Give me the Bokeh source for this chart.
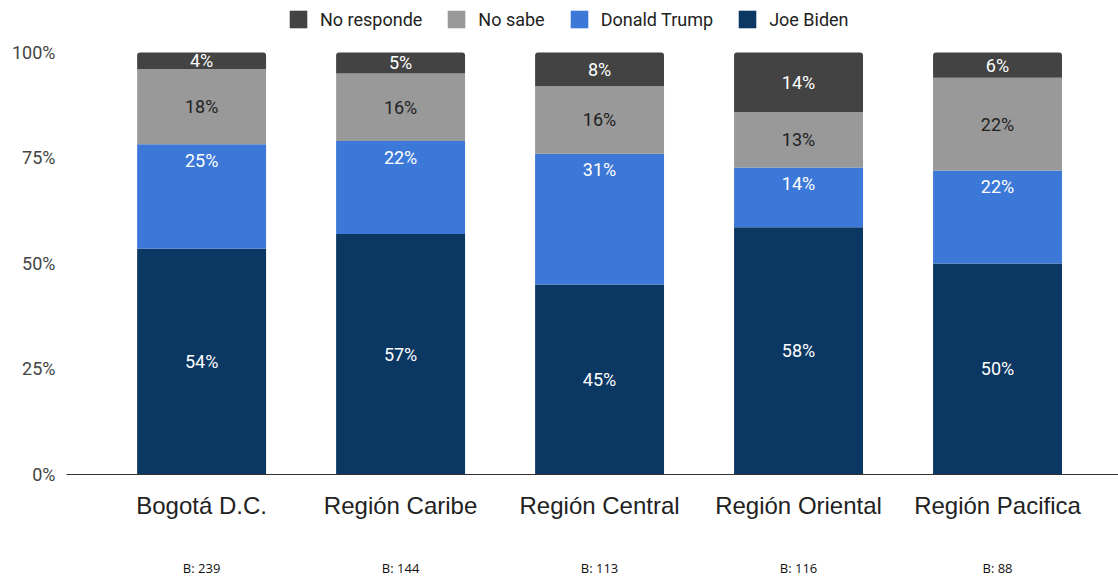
import numpy as np
from bokeh.plotting import figure
from bokeh.models import (Range1d, FixedTicker, LinearAxis, Legend, LegendItem,
                          ColumnDataSource)
from bokeh.core.properties import value
from bokeh.embed import file_html
from bokeh.resources import INLINE

regions = ["Bogotá D.C.", "Región Caribe", "Región Central", "Región Oriental", "Región Pacifica"]
bases = ["B: 239", "B: 144", "B: 113", "B: 116", "B: 88"]
series = ["Joe Biden", "Donald Trump", "No sabe", "No responde"]
biden = [54, 57, 45, 58, 50]
trump = [25, 22, 31, 14, 22]
no_sabe = [18, 16, 16, 13, 22]
no_responde = [4, 5, 8, 14, 6]
y_ticks = [0, 25, 50, 75, 100]
colors = ["#0b3763", "#3c78d8", "#999999", "#434343"]
label_colors = ["#ffffff", "#ffffff", "#222222", "#ffffff"]

raw = np.array([biden, trump, no_sabe, no_responde], dtype=float)
norm = raw / raw.sum(axis=0) * 100.0
tops = np.cumsum(norm, axis=0)
bottoms = tops - norm
xs = list(range(len(regions)))

W, H = 1118, 579
p = figure(width=W, height=H, output_backend="svg", toolbar_location=None,
           x_range=Range1d(-0.679, 4.608), y_range=Range1d(0, 112.29),
           min_border_left=66, min_border_right=0, min_border_top=0,
           min_border_bottom=104, x_axis_location=None)
p.outline_line_color = None
p.xgrid.visible = False
p.ygrid.visible = False
p.background_fill_color = "white"
p.border_fill_color = "white"

renderers = []
for i, name in enumerate(series):
    src = ColumnDataSource(dict(x=xs, top=tops[i], bottom=bottoms[i]))
    kw = {}
    if i == len(series) - 1:
        kw["border_radius"] = (3, 3, 0, 0)
    r = p.vbar(x="x", width=0.648, top="top", bottom="bottom", source=src,
               fill_color=colors[i], line_color=None, **kw)
    renderers.append(r)

for i, name in enumerate(series):
    labels = [f"{int(v)}%" for v in raw[i]]
    if name == "Donald Trump":
        ys = tops[i]
        yoff = 16
    else:
        ys = (tops[i] + bottoms[i]) / 2
        yoff = 0
    src = ColumnDataSource(dict(x=xs, y=ys, t=labels))
    p.text(x="x", y="y", text="t", source=src, text_align="center",
           text_baseline="middle", y_offset=yoff,
           text_font=value("Roboto"), text_font_size="18px",
           text_color=label_colors[i])

p.yaxis.ticker = FixedTicker(ticks=y_ticks)
p.yaxis.major_label_overrides = {t: f"{t}%" for t in y_ticks}
p.yaxis.axis_line_color = None
p.yaxis.major_tick_line_color = None
p.yaxis.minor_tick_line_color = None
p.yaxis.major_tick_out = 0
p.yaxis.major_tick_in = 0
p.yaxis.major_label_standoff = 11
p.yaxis.major_label_text_font = "Roboto"
p.yaxis.major_label_text_font_size = "18px"
p.yaxis.major_label_text_color = "#444444"

xa = LinearAxis(ticker=FixedTicker(ticks=xs),
                major_label_overrides={i: r for i, r in enumerate(regions)})
xa.axis_line_color = "#333333"
xa.axis_line_width = 1
xa.major_tick_line_color = None
xa.minor_tick_line_color = None
xa.major_tick_out = 0
xa.major_tick_in = 0
xa.major_label_standoff = 17
xa.major_label_text_font = "Liberation Sans"
xa.major_label_text_font_size = "24px"
xa.major_label_text_color = "#222222"
p.add_layout(xa, "below")

xb = LinearAxis(ticker=FixedTicker(ticks=xs),
                major_label_overrides={i: b for i, b in enumerate(bases)})
xb.axis_line_color = None
xb.major_tick_line_color = None
xb.minor_tick_line_color = None
xb.major_tick_out = 0
xb.major_tick_in = 0
xb.major_label_standoff = 37
xb.major_label_text_font = "Open Sans"
xb.major_label_text_font_size = "13px"
xb.major_label_text_color = "#111111"
p.add_layout(xb, "below")

order = [3, 2, 1, 0]
legend = Legend(items=[LegendItem(label=series[i], renderers=[renderers[i]]) for i in order],
                orientation="horizontal", location=(221, 444),
                glyph_width=22, glyph_height=22, label_height=22,
                label_standoff=11, spacing=23, padding=0, margin=0,
                label_text_font="Roboto", label_text_font_size="18px",
                label_text_color="#222222", border_line_color=None,
                background_fill_alpha=0)
p.add_layout(legend, "center")

open("out.html", "w").write(file_html(p, INLINE))
